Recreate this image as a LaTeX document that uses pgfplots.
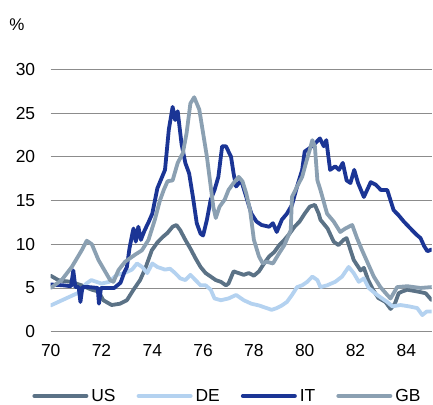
\documentclass[border=0pt]{standalone}
\usepackage{fontspec}
\setmainfont{Liberation Sans}
\usepackage{pgfplots}
\pgfplotsset{compat=1.18}
\definecolor{cUS}{HTML}{5B7286}
\definecolor{cDE}{HTML}{B4D2F0}
\definecolor{cIT}{HTML}{1B3595}
\definecolor{cGB}{HTML}{8BA0B2}
\definecolor{gridc}{HTML}{8C8C8C}
\begin{document}
\begin{tikzpicture}
\useasboundingbox (-50.7bp,-73.3bp) rectangle (382.3bp,331.7bp);
\node[font=\fontsize{17}{20}\selectfont] at (-33.7bp,306.7bp) {\%};
\begin{axis}[
  scale only axis,
  width=381bp, height=262.4bp,
  at={(0,0)}, anchor=south west,
  xmin=70, xmax=85, ymin=0, ymax=30,
  axis line style={draw=none},
  major tick length=0pt,
  xtick={70,72,...,84},
  ytick={0,5,...,30},
  ymajorgrids,
  major grid style={gridc, line width=0.9bp},
  tick label style={font=\fontsize{17.5}{20}\selectfont},
  /pgf/number format/assume math mode=true,
  yticklabel style={anchor=east, xshift=-12bp},
  xticklabel style={anchor=north, yshift=-9bp},
  clip=true,
  every axis plot/.append style={line width=3.8bp, line join=round, line cap=round, mark=none},
  legend style={at={(-0.048,-0.245)}, anchor=west, draw=none, fill=none,
    inner sep=0pt, outer sep=0pt, font=\fontsize{17.5}{20}\selectfont,
    nodes={inner sep=1bp},
    /tikz/every odd column/.style={column sep=2bp},
    /tikz/every even column/.style={column sep=20bp}},
  legend columns=4,
  legend image code/.code={\draw[#1, line width=4bp, line cap=round] (2bp,0bp) -- (54bp,0bp);},
]
% US
\addplot[cUS] coordinates {
(70.0,6.4)(70.3,5.9)(70.5,5.8)(70.83,5.7)(71.0,5.5)(71.22,5.3)(71.45,5.0)(71.62,4.8)
(71.88,4.6)(72.07,3.6)(72.25,3.3)(72.4,3.05)(72.73,3.2)(73.0,3.6)(73.26,4.8)(73.52,5.9)
(73.72,7.2)(73.98,9.3)(74.2,10.2)(74.4,10.8)(74.6,11.3)(74.8,12.0)(74.95,12.2)(75.1,11.6)
(75.3,10.5)(75.5,9.5)(75.7,8.4)(75.9,7.4)(76.1,6.7)(76.3,6.3)(76.5,5.9)(76.7,5.7)
(76.9,5.3)(77.0,5.5)(77.2,6.9)(77.4,6.7)(77.6,6.5)(77.8,6.7)(78.0,6.4)(78.2,6.9)
(78.4,7.8)(78.6,8.6)(78.8,9.1)(79.0,9.9)(79.2,10.5)(79.4,11.2)(79.6,12.0)(79.8,12.6)
(80.0,13.5)(80.2,14.3)(80.4,14.5)(80.55,13.5)(80.62,12.8)(80.9,11.8)(81.14,10.3)(81.33,9.9)
(81.53,10.5)(81.65,10.7)(81.93,8.2)(82.2,7.0)(82.33,7.3)(82.5,5.9)(82.7,4.75)(82.9,3.85)
(83.18,3.4)(83.38,2.6)(83.55,3.2)(83.7,4.4)(83.84,4.6)(84.04,4.8)(84.43,4.6)(84.76,4.4)
(85.0,3.6)
};
\addlegendentry{US}
% DE
\addplot[cDE] coordinates {
(70.0,3.0)(70.3,3.4)(70.6,3.8)(70.9,4.2)(71.2,4.6)(71.4,5.5)(71.6,5.9)(71.8,5.7)
(72.0,5.5)(72.3,5.7)(72.6,6.5)(72.9,6.7)(73.2,7.1)(73.4,7.8)(73.6,7.4)(73.8,6.7)
(74.0,7.8)(74.2,7.4)(74.5,7.1)(74.7,7.2)(74.9,6.7)(75.1,6.1)(75.3,5.9)(75.5,6.5)
(75.7,5.9)(75.9,5.3)(76.1,5.3)(76.3,4.8)(76.45,3.8)(76.7,3.6)(77.0,3.8)(77.3,4.2)
(77.6,3.6)(77.9,3.2)(78.2,3.0)(78.5,2.7)(78.7,2.5)(78.9,2.7)(79.1,3.0)(79.3,3.4)
(79.5,4.2)(79.7,5.1)(79.9,5.3)(80.1,5.7)(80.3,6.3)(80.5,5.9)(80.62,5.1)(80.88,5.3)
(81.2,5.7)(81.47,6.3)(81.73,7.4)(81.93,6.7)(82.13,5.7)(82.33,6.1)(82.52,5.0)(82.85,4.2)
(83.25,3.4)(83.45,2.9)(83.77,3.05)(84.1,2.9)(84.43,2.7)(84.63,1.9)(84.8,2.3)(85.0,2.3)
};
\addlegendentry{DE}
% IT
\addplot[cIT] coordinates {
(70.0,5.4)(70.5,5.3)(70.8,5.2)(70.89,7.0)(70.97,5.1)(71.1,5.1)(71.17,3.4)(71.25,5.1)
(71.5,5.1)(71.85,5.0)(71.9,3.2)(71.98,5.0)(72.5,5.0)(72.75,5.6)(72.9,6.8)(73.0,7.4)
(73.1,9.5)(73.2,11.0)(73.26,11.8)(73.35,10.3)(73.45,12.0)(73.55,10.5)(73.7,11.6)(73.85,12.5)
(74.0,13.5)(74.2,16.4)(74.5,18.5)(74.65,23.1)(74.8,25.7)(74.9,24.2)(75.0,25.2)(75.15,21.5)
(75.3,19.3)(75.45,18.1)(75.6,15.4)(75.75,12.4)(75.9,11.2)(76.0,11.0)(76.15,12.8)(76.3,15.1)
(76.45,16.2)(76.6,17.7)(76.75,21.2)(76.9,21.2)(77.1,20.0)(77.2,18.1)(77.3,16.6)(77.5,17.3)
(77.7,15.4)(77.9,13.5)(78.1,12.6)(78.3,12.2)(78.6,12.0)(78.75,12.4)(78.9,11.4)(79.1,12.8)
(79.3,13.5)(79.5,14.5)(79.7,16.6)(79.9,18.5)(80.0,20.6)(80.2,21.0)(80.4,21.5)(80.6,22.1)
(80.75,21.2)(80.85,21.9)(81.0,18.5)(81.2,18.9)(81.35,18.5)(81.5,19.3)(81.65,17.3)(81.8,17.0)
(81.95,18.5)(82.1,17.0)(82.33,15.4)(82.6,17.1)(82.8,16.8)(83.0,16.2)(83.25,16.2)(83.5,13.9)
(83.7,13.3)(83.9,12.6)(84.23,11.6)(84.4,11.1)(84.56,10.7)(84.7,9.8)(84.83,9.2)(85.0,9.4)
};
\addlegendentry{IT}
% GB
\addplot[cGB] coordinates {
(70.0,5.0)(70.43,5.9)(70.83,7.4)(71.22,9.3)(71.42,10.4)(71.62,10.0)(71.88,8.2)(72.14,6.9)
(72.34,5.9)(72.47,5.7)(72.67,7.05)(72.93,8.0)(73.32,8.8)(73.59,9.3)(73.85,10.5)(74.1,12.8)
(74.3,15.0)(74.45,16.2)(74.6,17.2)(74.8,17.3)(75.0,19.3)(75.2,20.4)(75.35,22.7)(75.5,26.1)
(75.65,26.8)(75.85,25.4)(76.0,22.7)(76.15,20.0)(76.3,16.6)(76.4,14.3)(76.5,13.0)(76.65,14.3)
(76.85,15.1)(77.0,16.2)(77.2,17.0)(77.4,17.7)(77.55,17.2)(77.7,15.8)(77.85,13.9)(78.0,10.5)
(78.2,8.6)(78.35,7.8)(78.5,8.0)(78.75,7.8)(79.0,9.0)(79.2,9.9)(79.45,11.6)(79.5,15.4)
(79.7,16.6)(79.9,17.7)(80.05,19.3)(80.2,20.8)(80.3,21.9)(80.4,21.2)(80.5,17.3)(80.62,16.2)
(80.88,13.5)(81.14,12.6)(81.4,11.4)(81.6,11.8)(81.87,12.2)(82.06,10.7)(82.26,9.3)(82.46,8.0)
(82.72,6.3)(82.98,5.1)(83.25,4.2)(83.38,3.8)(83.64,5.1)(84.04,5.2)(84.56,5.0)(85.0,5.1)
};
\addlegendentry{GB}
\end{axis}
\end{tikzpicture}
\end{document}
